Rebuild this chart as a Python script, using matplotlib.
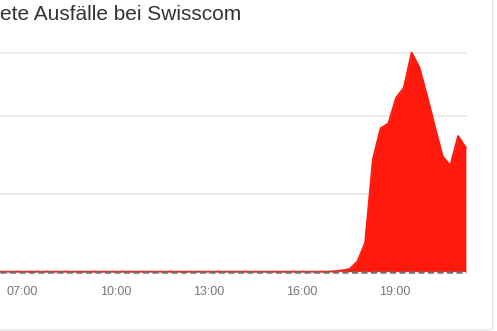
import numpy as np
import matplotlib
matplotlib.use("Agg")
import matplotlib.pyplot as plt
from matplotlib.patches import FancyBboxPatch

plt.rcParams['font.family'] = ['Liberation Sans', 'DejaVu Sans']

# reported outages, one value every 15 min (hours as decimals)
t_start = 6.06
step = 0.25
reports = [
    0, 0, 0, 0, 0, 0, 0, 0, 0, 0, 0, 0,
    0, 0, 0, 0, 0, 0, 0, 0, 0, 0, 0, 0,
    0, 0, 0, 0, 0, 0, 0, 0, 0, 0, 0, 0,
    0, 0, 0, 0, 0, 0, 0, 0, 0.5, 1.5,
    3.4, 13, 37, 144, 184, 190, 223, 236, 281, 262,
    225, 186, 148, 136, 174, 159,
]
tick_hours = [7, 10, 13, 16, 19]
tick_labels = ["07:00", "10:00", "13:00", "16:00", "19:00"]
grid_levels = [100, 200]

times = t_start + step * np.arange(len(reports))

fig = plt.figure(figsize=(4.97, 3.31), dpi=100)
ax = fig.add_axes([0, 0.1792, 0.9376, 0.6616])

red = "#ff1a0d"
ax.fill_between(times, reports, 0, color=red, lw=0, zorder=2)
ax.plot(times, reports, color=red, lw=1.4, zorder=3, clip_on=False)
ax.axhline(0, color="#707070", lw=1.8, ls=(0, (2.4, 1.4)), zorder=4, clip_on=False)

top = max(reports)
for g in grid_levels + [top]:
    ax.axhline(g, color="#e6e6e6", lw=1.1, zorder=1, clip_on=False)

ax.set_xlim(6.274, 21.314)
ax.set_ylim(0, top)
ax.set_xticks(tick_hours)
ax.set_xticklabels(tick_labels)
ax.set_yticks([])
ax.tick_params(axis="x", length=0, pad=10, labelsize=9, labelcolor="#777777")
for s in ax.spines.values():
    s.set_visible(False)
ax.patch.set_alpha(0)

fig.text(0.0, 1 - 20 / 331, "ete Ausfälle bei Swisscom", fontsize=15,
         color="#333333", ha="left", va="baseline")

# card border (only right and bottom edges fall inside the crop)
card = FancyBboxPatch((-0.2, 0.003), 0.2 + 0.9914, 1.5, boxstyle="round,pad=0,rounding_size=0.008",
                      transform=fig.transFigure, fc="none", ec="#dddddd", lw=0.8)
fig.patches.append(card)

fig.savefig("out.png", dpi=100)
